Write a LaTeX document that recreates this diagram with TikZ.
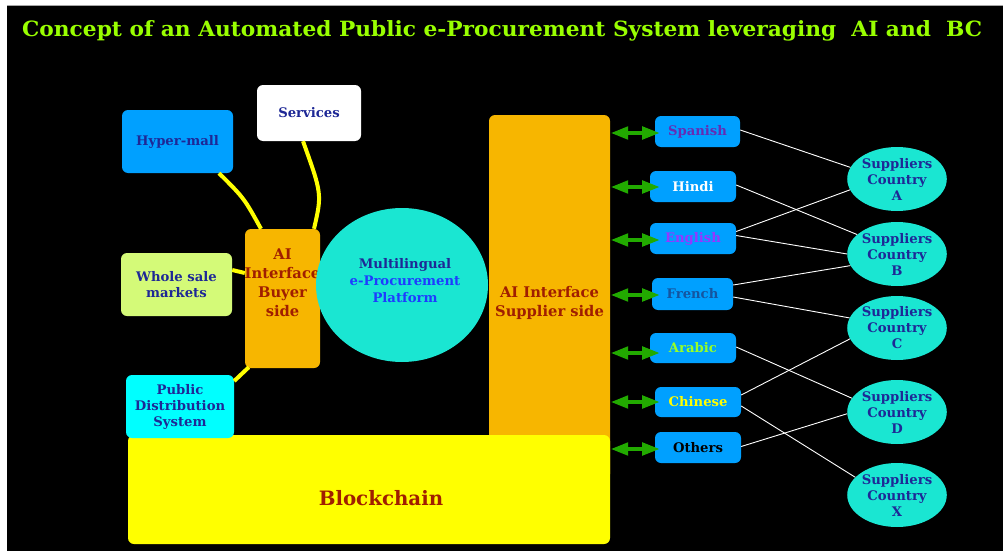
\documentclass[tikz,border=0pt]{standalone}
\usepackage{fontspec}
\setmainfont{DejaVu Serif}
\usepackage{graphicx}
\usetikzlibrary{arrows.meta,calc,shapes.geometric}

\definecolor{titlegreen}{RGB}{153,255,0}
\definecolor{skyblue}{RGB}{0,160,255}
\definecolor{navytxt}{RGB}{30,40,150}
\definecolor{limefill}{RGB}{212,250,120}
\definecolor{aqua}{RGB}{0,255,255}
\definecolor{amber}{RGB}{247,182,0}
\definecolor{rusttxt}{RGB}{160,30,0}
\definecolor{turq}{RGB}{26,230,210}
\definecolor{procblue}{RGB}{30,60,255}
\definecolor{chainyellow}{RGB}{255,255,0}
\definecolor{arrowgreen}{RGB}{34,170,0}
\definecolor{spanishtxt}{RGB}{100,45,180}
\definecolor{englishtxt}{RGB}{150,55,255}
\definecolor{frenchtxt}{RGB}{20,85,160}
\definecolor{arabictxt}{RGB}{150,255,40}

\tikzset{
  txt/.style={font=\bfseries\fontsize{13.2}{16}\selectfont, align=center, inner sep=0pt},
  box/.style={rectangle, rounded corners=6pt, inner sep=0pt, align=center,
    font=\bfseries\fontsize{13.2}{16}\selectfont, text=navytxt},
  langbox/.style={box, fill=skyblue, minimum width=86pt, minimum height=31pt},
  supplier/.style={ellipse, fill=turq, minimum width=96pt, minimum height=64pt,
    inner sep=0pt, align=center, text=navytxt,
    font=\bfseries\fontsize{13.2}{16}\selectfont},
  ylink/.style={draw=chainyellow, line width=4pt},
  wlink/.style={draw=white, line width=0.9pt},
  garrow/.style={draw=arrowgreen, line width=4.5pt,
    {Triangle[length=18pt,width=12pt]}-{Triangle[length=18pt,width=12pt]}},
}

\begin{document}
\begin{tikzpicture}[x=1pt,y=-1pt]
\useasboundingbox (0,0) rectangle (1003,551);
\fill[white] (0,0) rectangle (1003,551);
\fill[black] (7,6) rectangle (1003,551);
\draw[gray!70, line width=1pt] (7,6) -- (1003,6);

% heading
\node[anchor=base west, inner sep=0pt, text=titlegreen,
      font=\bfseries\fontsize{21}{25}\selectfont] (title) at (22,37)
  {\resizebox{960pt}{\height}{Concept of an Automated Public e-Procurement System leveraging\ \ AI and\ \ BC}};

% buyer-side sources
\node[box, fill=skyblue, minimum width=111pt, minimum height=63pt] (hm) at (177.5,141.5) {Hyper-mall};
\node[box, fill=white, minimum width=104pt, minimum height=56pt] (sv) at (309,113) {Services};
\node[box, fill=limefill, minimum width=111pt, minimum height=63pt] (ws) at (176.5,284.5) {Whole sale\\markets};

% buyer interface
\node[box, fill=amber, minimum width=75pt, minimum height=139pt] (buyer) at (282.5,298.5) {};
\node[txt, text=rusttxt, font=\bfseries\fontsize{14.7}{19}\selectfont] (buyertxt)
  at ($(buyer)+(0,-16)$) {AI\\Interface\\Buyer\\side};

% platform
\node[ellipse, fill=turq, minimum width=172pt, minimum height=154pt, inner sep=0pt] (plat) at (402,285) {};
\node[txt, font=\bfseries\fontsize{13.2}{17}\selectfont] (plattxt) at ($(plat)+(3,-4)$)
  {\textcolor{navytxt}{Multilingual}\\\textcolor{procblue}{e-Procurement}\\\textcolor{procblue}{Platform}};

% supplier interface
\node[box, fill=amber, minimum width=121pt, minimum height=365pt] (sup) at (549.5,297.5) {};
\node[txt, text=rusttxt, font=\bfseries\fontsize{14.7}{19}\selectfont] (suptxt)
  at ($(sup)+(0,5)$) {AI Interface\\Supplier side};

% blockchain layer
\node[box, fill=chainyellow, minimum width=482pt, minimum height=109pt] (bc) at (369,489.5) {};
\node[txt, text=rusttxt, font=\bfseries\fontsize{19.8}{22}\selectfont] (bctxt) at ($(bc)+(12,9)$) {Blockchain};

\node[box, fill=aqua, minimum width=108pt, minimum height=63pt] (pds) at (180,406.5) {Public\\Distribution\\System};

% links into the buyer interface
\draw[ylink] ([xshift=41.5pt]hm.south) .. controls (244,198) .. ([xshift=-21.5pt]buyer.north);
\draw[ylink] ([xshift=-6pt]sv.south) .. controls (322,194) .. ([xshift=31.5pt]buyer.north);
\draw[ylink] ([yshift=14.5pt]ws.east) -- ([yshift=25.5pt]buyer.west);
\draw[ylink] ([yshift=25.5pt]pds.east) -- ([xshift=4pt,yshift=1pt]buyer.south west);

% language nodes
\node[langbox, minimum width=85pt] (es) at (697.5,131.5) {\textcolor{spanishtxt}{Spanish}};
\node[langbox] (hi) at (693,186.5) {\textcolor{white}{Hindi}};
\node[langbox] (en) at (693,238.5) {\textcolor{englishtxt}{English}};
\node[langbox, minimum width=81pt, minimum height=32pt] (fr) at (692.5,294) {\textcolor{frenchtxt}{French}};
\node[langbox, minimum height=30pt] (ar) at (693,348) {\textcolor{arabictxt}{Arabic}};
\node[langbox, minimum height=30pt] (zh) at (698,402) {\textcolor{chainyellow}{Chinese}};
\node[langbox] (ot) at (698,447.5) {\textcolor{black}{Others}};

% two-way arrows between supplier interface and languages
\foreach \l/\dy in {es/-1.5, hi/-0.5, en/-1.5, fr/-1, ar/-5, zh/0, ot/-1.5}{
  \draw[garrow] ([yshift=\dy pt]sup.east |- \l.west) -- ($([yshift=\dy pt]sup.east |- \l.west)+(50,0)$);
}

% supplier countries
\node[supplier] (ca) at (897,179) {Suppliers\\Country\\A};
\node[supplier] (cb) at (897,254) {Suppliers\\Country\\B};
\node[supplier] (cc) at (897,328) {Suppliers\\Country\\C};
\node[supplier] (cd) at (897,412) {Suppliers\\Country\\D};
\node[supplier] (cx) at (897,495) {Suppliers\\Country\\X};

% language-to-country links
\draw[wlink] ([yshift=1.5pt]es.east) -- (ca.166);
\draw[wlink] ([yshift=1.5pt]hi.east) -- (cb.154);
\draw[wlink] ([yshift=7pt]en.east) -- (ca.193);
\draw[wlink] ([yshift=3pt]en.east) -- (cb.180);
\draw[wlink] ([yshift=9pt]fr.east) -- (cb.194);
\draw[wlink] ([yshift=-3pt]fr.east) -- (cc.168);
\draw[wlink] ([yshift=1pt]ar.east) -- (cd.163);
\draw[wlink] ([yshift=7pt]zh.east) -- (cc.193);
\draw[wlink] ([yshift=-4pt]zh.east) -- (cx.157);
\draw[wlink] ([yshift=1pt]ot.east) -- (cd.182);
\end{tikzpicture}
\end{document}
